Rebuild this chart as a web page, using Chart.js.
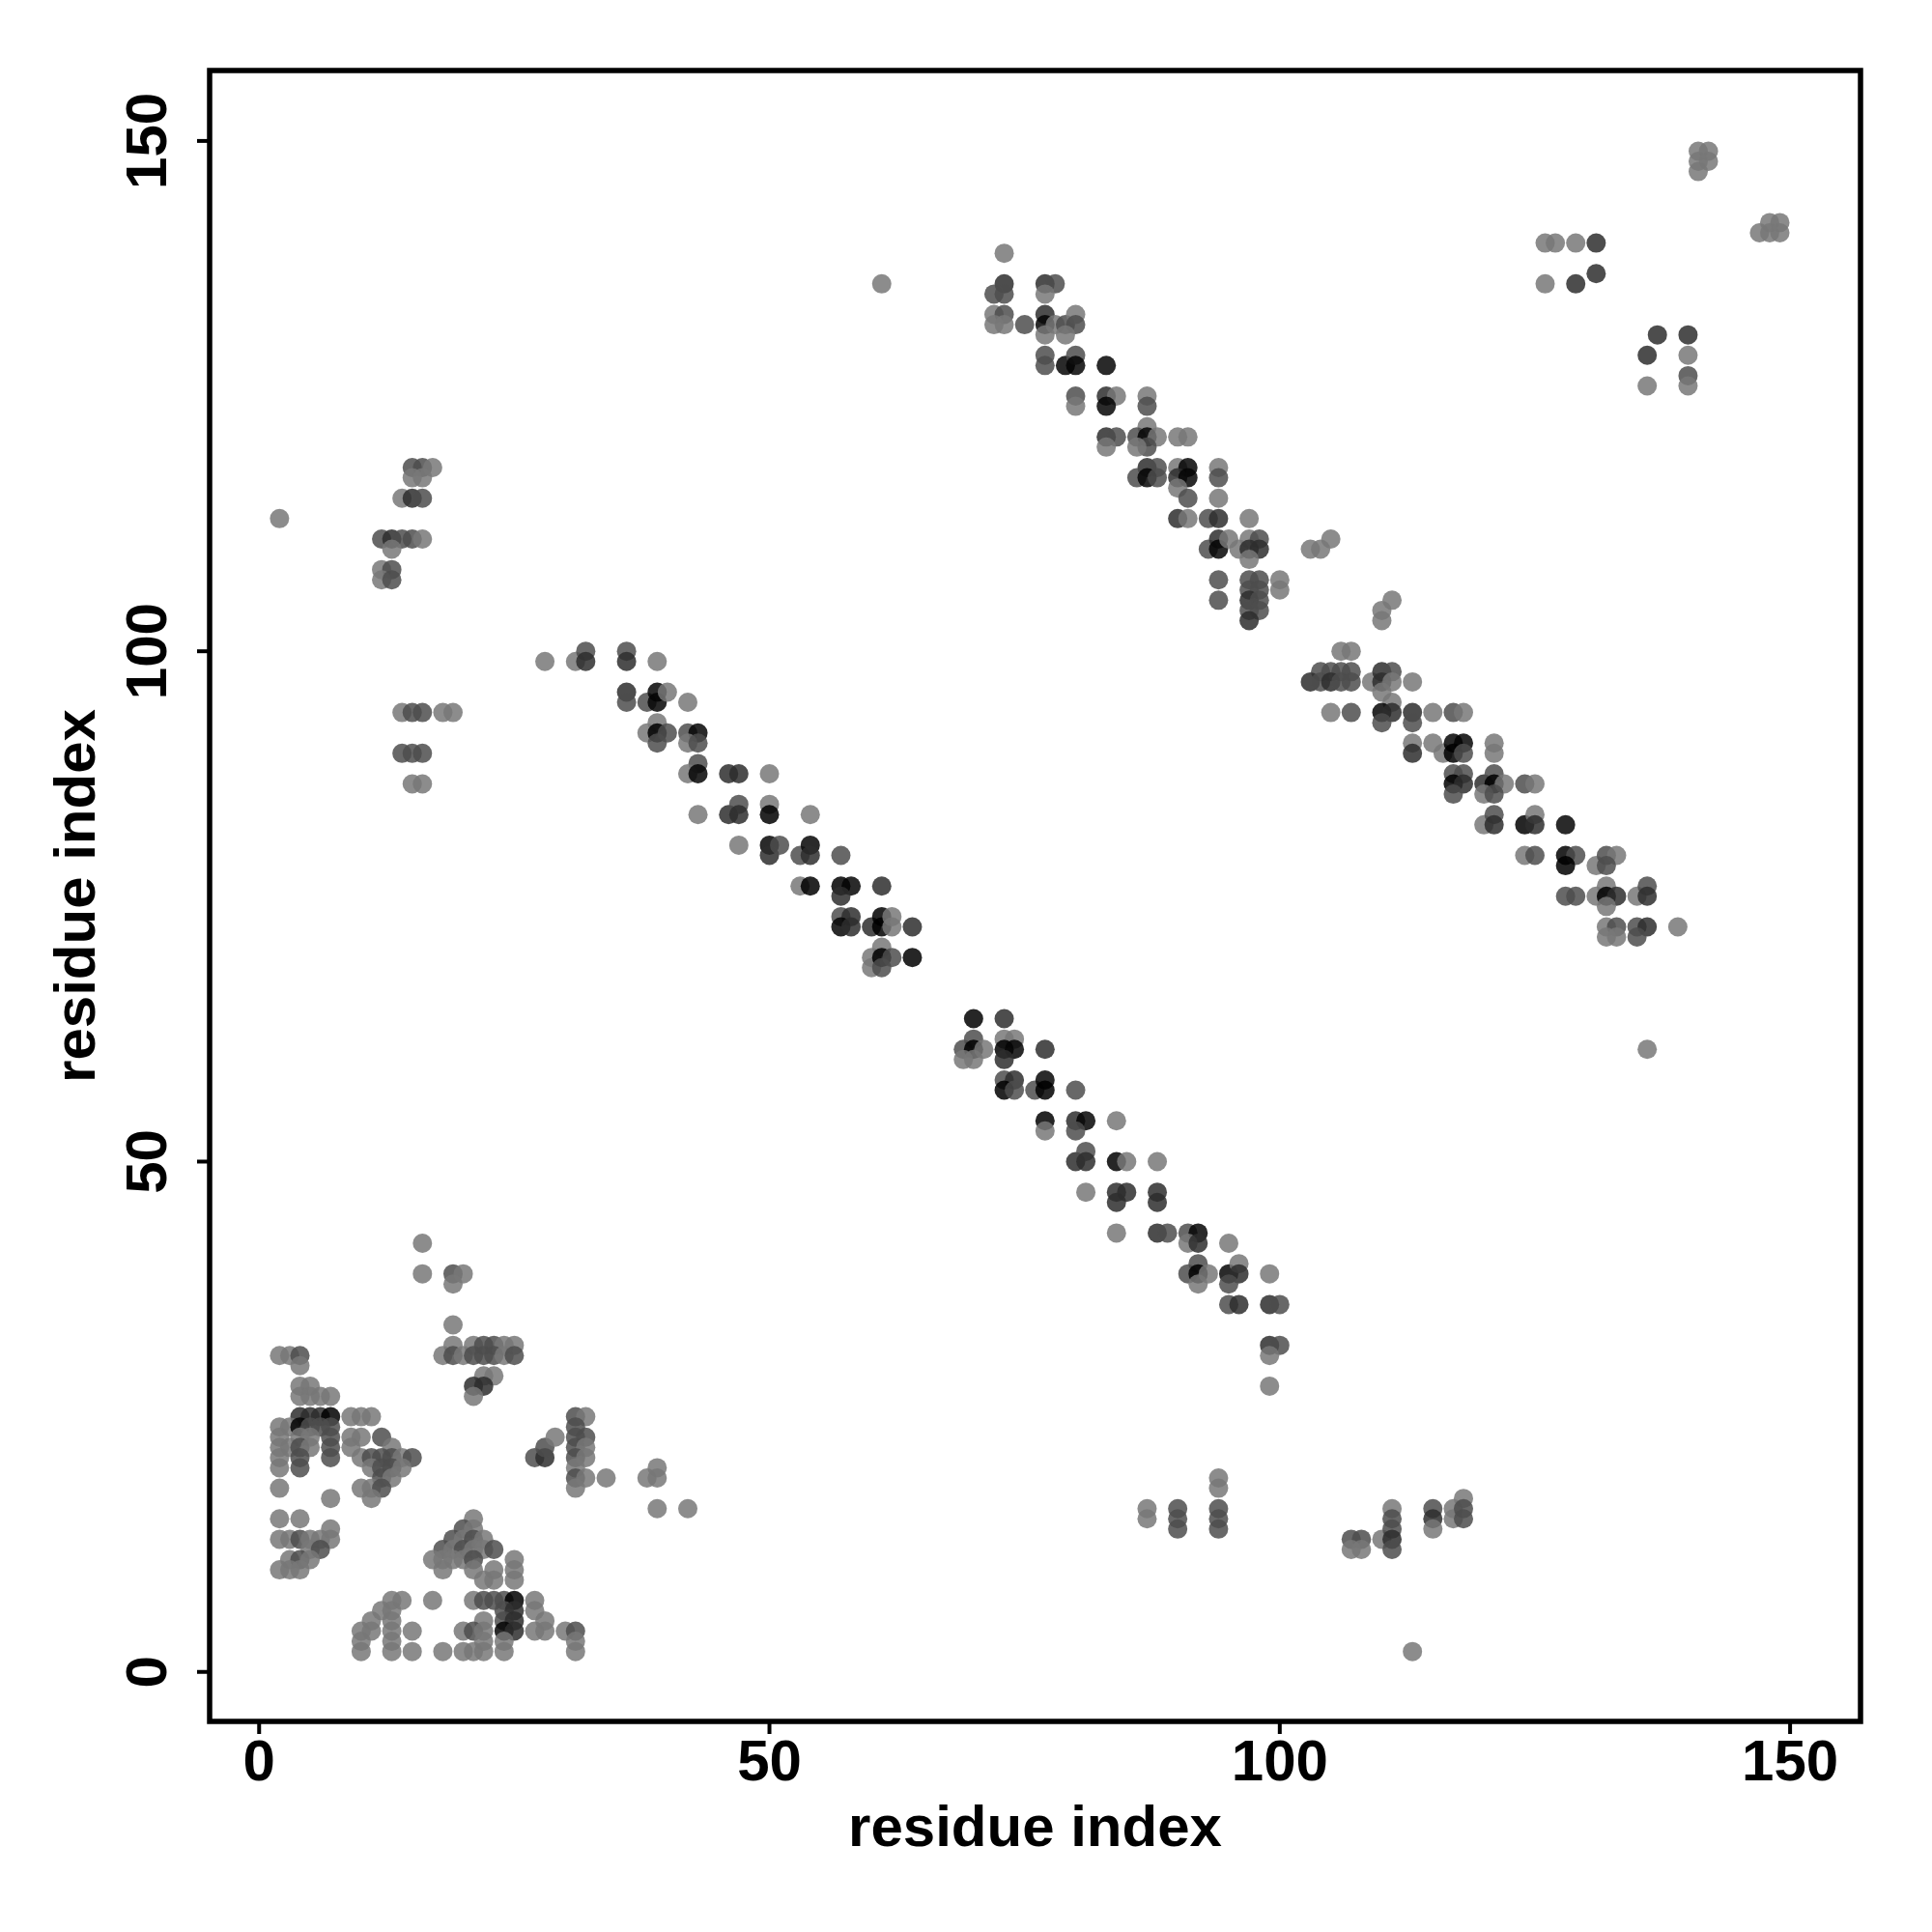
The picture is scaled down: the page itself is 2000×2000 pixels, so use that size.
<!DOCTYPE html>
<html>
<head>
<meta charset="utf-8">
<title>contact map</title>
<script src="https://cdn.jsdelivr.net/npm/chart.js@4.4.0/dist/chart.umd.min.js"></script>
<style>
  html, body { margin: 0; padding: 0; background: #fff; }
  #wrap { width: 2000px; height: 2000px; }
</style>
</head>
<body>
<div id="wrap"><canvas id="contactMap" width="2000" height="2000"></canvas></div>
<script>
// contacts as [residue i, residue j, score]; score says how dark the dot is (1 = one faint dot)

// N-terminal block, lower left
const nTermBlock = [
  [16,42,1],[16,39,1],[19,39,1.5],[20,39,1],[19,38,1],[19,34,1],
  [19,32,1],[21,32,1],[22,32,1.5],[23,32,1.5],[24,32,1],[25,32,1],
  [18,31,1],[19,31,1.5],[20,31,1],[21,31,1.5],[22,31,1.5],[23,31,1.5],[24,31,1],[25,31,1.5],
  [22,29,1],[23,29,1],[21,28,2],[22,28,2],[21,27,1],
  [2,31,1],[3,31,1],[4,31,1.5],[4,30,1],[4,28,1],[5,28,1],
  [4,27,1],[5,27,1],[6,27,1],[7,27,1],
  [4,25,2],[5,25,2],[6,25,2],[7,25,4],[9,25,1],[10,25,1],[11,25,1],
  [2,24,1],[3,24,1],[4,24,3],[5,24,1.5],[6,24,1.5],[7,24,1.5],
  [2,23,1],[4,23,1],[5,23,1],[7,23,1.5],[9,23,1],[10,23,1],[12,23,1.5],
  [2,22,1],[3,22,1],[4,22,1.5],[5,22,1],[7,22,1.5],[9,22,1],[13,22,1],
  [2,21,1],[4,21,1.5],[7,21,1.5],[10,21,1],[11,21,1.5],[12,21,1.5],[13,21,1.5],[14,21,1],[15,21,1.5],
  [2,20,1],[4,20,1.5],[11,20,1],[12,20,1.5],[13,20,1.5],[14,20,1],
  [12,19,1.5],[13,19,1],
  [2,18,1],[10,18,1],[11,18,1],[12,18,1.5],[7,17,1],[11,17,1],
  [2,15,1],[4,15,1],[7,14,1],
  [2,13,1],[3,13,1],[4,13,1.5],[5,13,1],[6,13,1],[7,13,1],
  [5,12,1],[6,12,1.5],[3,11,1],[4,11,1.5],[5,11,1],[2,10,1],[3,10,1],[4,10,1]
];

const nTermLower = [
  [21,15,1],[20,14,1.5],[21,14,1],[19,13,1.5],[20,13,1],[21,13,1.5],[22,13,1],
  [18,12,1.5],[19,12,1],[20,12,1.5],[21,12,1],[22,12,1],[23,12,1.5],
  [17,11,1],[18,11,1],[19,11,1],[20,11,1],[21,11,1.5],[25,11,1],
  [18,10,1],[21,10,1],[23,10,1],[25,10,1],[22,9,1],[23,9,1],[25,9,1],
  [13,7,1],[14,7,1],[17,7,1],[21,7,1],[22,7,1.5],[23,7,1.5],[24,7,1.5],[25,7,4],[27,7,1],
  [12,6,1],[13,6,1],[24,6,1.5],[25,6,2],[27,6,1],
  [11,5,1],[13,5,1],[22,5,1],[24,5,1.5],[25,5,2],[28,5,1],
  [10,4,1],[11,4,1],[13,4,1],[15,4,1],[20,4,1],[21,4,1.5],[22,4,1],[24,4,3],[25,4,2],
  [27,4,1],[28,4,1],[30,4,1],[31,4,1.5],
  [10,3,1],[13,3,1],[22,3,1],[24,3,1],[31,3,1],
  [10,2,1],[13,2,1],[15,2,1],[18,2,1],[20,2,1],[21,2,1],[22,2,1],[24,2,1],[31,2,1]
];

const nTermRight = [
  [27,21,1.5],[28,21,2],[28,22,1.5],[29,23,1],
  [31,25,1.5],[32,25,1],[31,24,1.5],[31,23,1.5],[32,23,1.5],[31,22,1.5],[32,22,1],
  [31,21,1.5],[32,21,1],[31,20,1],[31,19,1.5],[32,19,1],[31,18,1],
  [34,19,1],[38,19,1],[39,20,1],[39,19,1],[39,16,1],[42,16,1]
];

// long range, bottom middle
const farLower = [
  [87,16,1],[87,15,1],[90,16,1.5],[90,15,1.5],[90,14,1.5],
  [94,19,1],[94,18,1],[94,16,1.5],[94,15,1.5],[94,14,1.5],
  [107,13,1.5],[108,13,1.5],[107,12,1],[108,12,1],[110,13,1],
  [111,16,1],[111,15,1.5],[111,14,1.5],[111,13,2],[111,12,1.5],
  [115,16,1.5],[115,15,2],[115,14,1],[117,16,1],[117,15,1],
  [118,17,1],[118,16,1.5],[118,15,1.5],[113,2,1]
];

// long range, upper left
const farUpper = [
  [2,113,1],
  [15,118,1.5],[16,118,1.5],[17,118,1],[15,117,1],[16,117,1],
  [14,115,1],[15,115,2],[16,115,1.5],
  [12,111,1.5],[13,111,2],[14,111,1.5],[15,111,1.5],[16,111,1],[13,110,1],
  [12,108,1],[13,108,1.5],[12,107,1],[13,107,1.5],
  [14,94,1],[15,94,1.5],[16,94,1.5],[18,94,1],[19,94,1],
  [14,90,1.5],[15,90,1.5],[16,90,1.5],[15,87,1],[16,87,1]
];

// antiparallel band 1, above the diagonal
const band1Upper = [
  [28,99,1],[31,99,1],[32,100,1.5],[32,99,2],[36,100,1.5],[36,99,2],[39,99,1],
  [36,96,2],[36,95,1.5],[38,95,1.5],[39,96,3],[39,95,3],[40,96,1],[42,95,1],
  [39,93,1],[38,92,1],[39,92,4],[40,92,1.5],[39,91,1.5],
  [42,92,1.5],[43,92,3],[42,91,1],[43,91,1.5],
  [43,89,1.5],[42,88,1],[43,88,3],[46,88,2],[47,88,2],[50,88,1],
  [43,84,1],[46,84,2],[47,85,1.5],[47,84,2],[50,85,1],[50,84,4],[54,84,1],
  [47,81,1],[50,81,3],[50,80,2],[51,81,1.5],[53,80,1.5],[54,81,3],[54,80,2],[57,80,1.5],
  [53,77,1],[54,77,4],[57,77,4],[58,77,3],[57,76,2],[61,77,2],
  [57,74,1.5],[58,74,2],[57,73,3],[58,73,2],[60,73,2],[61,74,4],[61,73,4],
  [62,74,1],[62,73,1],[64,73,2],
  [60,70,1],[60,69,1],[61,71,1],[61,70,4],[62,70,1.5],[61,69,1.5],[64,70,4]
];

// antiparallel band 1, below the diagonal
const band1Lower = [
  [70,64,4],[73,64,2],
  [70,62,1.5],[69,61,1.5],[70,61,4],[71,61,1],[69,60,1],[70,60,1],
  [73,62,1],[74,62,1],[73,61,4],[74,61,3],[73,60,2],[77,61,2],
  [73,58,1.5],[74,58,2],[73,57,4],[74,57,1.5],[76,57,1.5],[77,58,3],[77,57,4],[80,57,1.5],
  [77,54,4],[77,53,1],[80,54,2],[81,54,3],[80,53,1.5],[84,54,1],
  [80,50,2],[81,51,1.5],[81,50,2],[84,50,4],[85,50,1],[88,50,1],
  [81,47,1],[84,47,2],[85,47,2],[84,46,2],[88,47,2],[88,46,2],
  [84,43,1],[88,43,2],[89,43,1.5],[91,43,1.5],[92,43,3],[91,42,1],[92,42,2],[95,42,1],
  [91,39,1.5],[92,40,1.5],[92,39,4],[93,39,1],[92,38,1],
  [95,39,3],[96,40,1],[96,39,2],[95,38,1.5],[99,39,1],
  [95,36,1.5],[96,36,2],[99,36,2],[100,36,1.5],
  [99,32,2],[100,32,1.5],[99,31,1],[99,28,1]
];

// antiparallel band 2, above the diagonal
const band2Upper = [
  [61,136,1],
  [73,139,1],[73,136,2],[72,135,1.5],[73,135,1.5],[77,136,2],[78,136,1.5],[77,135,1],
  [72,133,1],[73,133,1.5],[72,132,1],[73,132,1],[75,132,1.5],
  [77,133,2],[77,132,3],[78,132,1],[77,131,1],
  [79,132,1.5],[80,133,1],[80,132,1.5],[79,131,1],
  [77,129,1.5],[77,128,1.5],[79,128,3],[80,129,1.5],[80,128,3],[83,128,3],
  [80,125,1.5],[80,124,1],[83,125,2],[84,125,1],[83,124,3],[87,125,1],[87,124,1.5],
  [87,122,1],[83,121,2],[84,121,1.5],[83,120,1],
  [86,121,1.5],[87,121,3],[88,121,1],[87,120,1.5],[86,120,1],[90,121,1],[91,121,1],
  [87,118,2],[88,118,1.5],[86,117,1.5],[87,117,3],[88,117,1.5],
  [90,118,1],[91,118,3],[90,117,2],[91,117,3],[90,116,1],[91,115,1.5],
  [94,118,1],[94,117,1.5],[94,115,1],
  [90,113,2],[91,113,1],[93,113,1.5],[94,113,2],[97,113,1],
  [93,110,1.5],[94,111,2],[94,110,3],[95,111,1],[96,110,1],
  [97,111,1],[98,111,1.5],[97,110,2],[98,110,2],[97,109,1],
  [94,107,1.5],[94,105,1.5],
  [97,107,1.5],[98,107,1.5],[97,106,1.5],[98,106,1.5],[97,105,2],[98,105,1.5],
  [97,104,1.5],[98,104,1.5],[97,103,2],[100,107,1],[100,106,1],
  [103,110,1],[104,110,1],[105,111,1]
];

// antiparallel band 2, below the diagonal
const band2Lower = [
  [110,104,1],[111,105,1],[110,103,1],[106,100,1],[107,100,1],
  [104,98,1.5],[105,98,1.5],[106,98,1.5],[107,98,1.5],
  [103,97,2],[104,97,1.5],[105,97,2],[106,97,1.5],[107,97,1.5],
  [109,97,1],[110,98,2],[111,98,1.5],[110,97,2],[111,97,1],[113,97,1],
  [110,96,1],[111,95,1],[110,94,3],[111,94,2],[110,93,1.5],
  [105,94,1],[107,94,1.5],[113,94,2],[113,93,1.5],[115,94,1],[117,94,1.5],[118,94,1],
  [113,91,1],[113,90,2],[115,91,1],[116,90,1],
  [117,91,3],[118,91,3],[117,90,4],[118,90,1.5],[121,91,1],[121,90,1],
  [117,88,1.5],[118,88,1.5],[117,87,4],[118,87,2],[117,86,1.5],
  [120,87,2],[121,88,1.5],[121,87,4],[122,87,1],[120,86,1],[121,86,1.5],[124,87,1.5],[125,87,1],
  [120,83,1],[121,84,1.5],[121,83,2],[124,83,4],[125,84,1],[125,83,2],[128,83,3],
  [124,80,1],[125,80,1.5],[128,80,4],[129,80,1.5],[128,79,4],
  [131,79,1],[132,80,1.5],[133,80,1],[132,79,1.5],
  [128,76,1.5],[129,76,1.5],[131,76,1],[132,77,1],[132,76,4],[133,76,2],[132,75,1],
  [135,76,1],[136,77,1.5],[136,76,2],
  [132,73,1],[133,73,1.5],[132,72,1],[133,72,1],[135,73,1.5],[136,73,2],[135,72,1.5],[139,73,1],
  [136,61,1]
];

// C-terminal contacts, top right
const cTermBlock = [
  [126,140,1],[127,140,1],[129,140,1],[131,140,2],[126,136,1],[129,136,2],[131,137,2],
  [141,149,1],[142,149,1],[141,148,1],[142,148,1],[141,147,1],
  [147,141,1],[148,142,1],[149,142,1],[148,141,1],[149,141,1],
  [137,131,2],[140,131,2],[136,129,2],[140,129,1],[140,127,1.5],[140,126,1],[136,126,1]
];

const tickValues = [0, 50, 100, 150];
const axisTitle = 'residue index';

const allContacts = [].concat(nTermBlock, nTermLower, nTermRight, farLower, farUpper,
  band1Upper, band1Lower, band2Upper, band2Lower, cTermBlock);

// grey level for a score, drawn mostly opaque so neighbours only darken a little
const DOT_ALPHA = 0.85;
function dotColor(score) {
  const target = 255 * Math.pow(0.55, score);
  const base = Math.max(0, Math.round((target - 255 * (1 - DOT_ALPHA)) / DOT_ALPHA));
  return 'rgba(' + base + ',' + base + ',' + base + ',' + DOT_ALPHA + ')';
}

const labelFont = 'bold 60px "Liberation Sans", Arial, sans-serif';

const framePlugin = {
  id: 'frame',
  afterDatasetsDraw(chart) {
    const { ctx, chartArea: a, scales } = chart;
    ctx.save();
    ctx.strokeStyle = '#000';
    ctx.fillStyle = '#000';
    ctx.lineWidth = 5.5;
    ctx.strokeRect(a.left, a.top, a.right - a.left, a.bottom - a.top);

    ctx.lineWidth = 4;
    ctx.font = labelFont;
    ctx.textAlign = 'center';
    ctx.textBaseline = 'middle';
    tickValues.forEach(function(v) {
      const px = scales.x.getPixelForValue(v);
      ctx.beginPath();
      ctx.moveTo(px, a.bottom);
      ctx.lineTo(px, a.bottom + 13);
      ctx.stroke();
      ctx.fillText(String(v), px, a.bottom + 44);

      const py = scales.y.getPixelForValue(v);
      ctx.beginPath();
      ctx.moveTo(a.left, py);
      ctx.lineTo(a.left - 13, py);
      ctx.stroke();
      ctx.save();
      ctx.translate(a.left - 62, py);
      ctx.rotate(-Math.PI / 2);
      ctx.fillText(String(v), 0, 0);
      ctx.restore();
    });

    // axis titles
    ctx.fillText(axisTitle, (a.left + a.right) / 2, a.bottom + 112);
    ctx.save();
    ctx.translate(a.left - 136, (a.top + a.bottom) / 2);
    ctx.rotate(-Math.PI / 2);
    ctx.fillText(axisTitle, 0, 0);
    ctx.restore();
    ctx.restore();
  }
};

const ctx = document.getElementById('contactMap').getContext('2d');
new Chart(ctx, {
  type: 'scatter',
  data: {
    datasets: [{
      label: 'contacts',
      data: allContacts.map(function(c) { return { x: c[0], y: c[1], s: c[2] }; }),
      pointRadius: 10,
      pointHoverRadius: 10,
      borderWidth: 0,
      backgroundColor: function(c) { return c.raw ? dotColor(c.raw.s) : dotColor(1); }
    }]
  },
  options: {
    responsive: false,
    animation: false,
    devicePixelRatio: 1,
    layout: { padding: { top: 73, right: 74, left: 0, bottom: 0 } },
    plugins: { legend: { display: false }, tooltip: { enabled: false } },
    scales: {
      x: {
        type: 'linear', min: -4.85, max: 156.9,
        grid: { display: false }, border: { display: false }, ticks: { display: false },
        afterFit: function(s) { s.height = 218; }
      },
      y: {
        type: 'linear', min: -4.85, max: 156.9,
        grid: { display: false }, border: { display: false }, ticks: { display: false },
        afterFit: function(s) { s.width = 217; }
      }
    }
  },
  plugins: [framePlugin]
});
</script>
</body>
</html>
